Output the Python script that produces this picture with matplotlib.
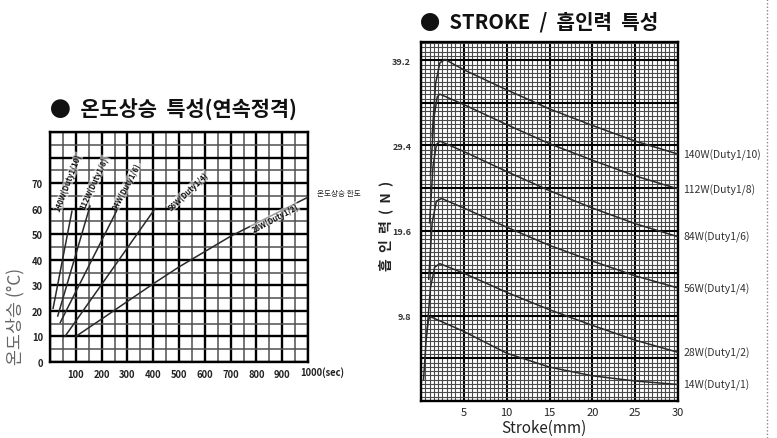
import matplotlib
matplotlib.use('Agg')
import matplotlib.pyplot as plt
from matplotlib.lines import Line2D

plt.rcParams['font.family'] = ['Noto Sans CJK KR', 'DejaVu Sans']

# ---------------- Left chart data: temperature rise ----------------
temp_names = ['140W(Duty1/10)', '112W(Duty1/8)', '84W(Duty1/6)', '56W(Duty1/4)', '28W(Duty1/2)']
temp_t_140 = [12, 85]
temp_v_140 = [21, 59]
temp_t_112 = [30, 155]
temp_v_112 = [18, 61]
temp_t_84 = [40, 265]
temp_v_84 = [15.5, 60.5]
temp_t_56 = [58, 407]
temp_v_56 = [10, 60]
temp_t_28 = [100, 200, 300, 400, 500, 600, 700, 800, 900, 1000]
temp_v_28 = [10, 16.8, 23.7, 30.6, 37.2, 43.2, 49.2, 54.3, 59.4, 64.5]
temp_xticks = [100, 200, 300, 400, 500, 600, 700, 800, 900]
temp_yticks = [0, 10, 20, 30, 40, 50, 60, 70]
temp_limit_label = '온도상승 한도'

# ---------------- Right chart data: stroke / force ----------------
stroke_names = ['140W(Duty1/10)', '112W(Duty1/8)', '84W(Duty1/6)',
                '56W(Duty1/4)', '28W(Duty1/2)', '14W(Duty1/1)']
stroke_140 = [1.3, 1.7, 2.2, 2.8, 5, 10, 15, 20, 25, 30]
force_140 = [30.5, 36.5, 38.9, 39.3, 38.1, 35.8, 33.6, 31.7, 29.9, 28.4]
stroke_112 = [1.1, 1.5, 1.9, 2.2, 5, 10, 15, 20, 25, 30]
force_112 = [26.0, 32.5, 35.0, 35.3, 34.1, 31.8, 29.6, 27.7, 25.9, 24.4]
stroke_84 = [1.0, 1.4, 1.8, 2.2, 5, 10, 15, 20, 25, 30]
force_84 = [20.5, 27.0, 29.5, 29.9, 28.7, 26.4, 24.2, 22.2, 20.4, 18.9]
stroke_56 = [0.9, 1.3, 1.8, 2.4, 5, 10, 15, 20, 25, 30]
force_56 = [14.0, 20.5, 23.0, 23.3, 22.2, 20.0, 17.9, 16.1, 14.4, 13.0]
stroke_28 = [0.7, 1.1, 1.6, 2.2, 5, 10, 15, 20, 25, 30]
force_28 = [8.0, 13.0, 15.4, 15.8, 14.7, 12.5, 10.5, 8.7, 7.0, 5.6]
stroke_14 = [0.3, 0.6, 0.85, 1.1, 5, 10, 15, 20, 25, 30]
force_14 = [2.5, 7.0, 9.3, 9.7, 8.0, 5.5, 3.9, 2.9, 2.3, 1.9]
stroke_xticks = [5, 10, 15, 20, 25, 30]
force_yticks = [9.8, 19.6, 29.4, 39.2]

fig = plt.figure(figsize=(7.77, 4.39), dpi=100)
W, H = 777.0, 439.0

def fx(px):
    return px / W

def fy(py):
    return 1 - py / H

# ================= LEFT =================
axL = fig.add_axes([fx(50), fy(363), (308 - 50) / W, (363 - 133) / H])
axL.set_xlim(0, 1000)
axL.set_ylim(0, 90)
for v in range(0, 1001, 50):
    major = v % 100 == 0
    axL.axvline(v, color='black' if major else '#505050', lw=1.7 if major else 1.1, zorder=1)
for v in range(0, 91, 5):
    major = v % 10 == 0
    axL.axhline(v, color='black' if major else '#505050', lw=1.7 if major else 1.1, zorder=1)

lc = '#2a2a2a'
for t, v in [(temp_t_140, temp_v_140), (temp_t_112, temp_v_112), (temp_t_84, temp_v_84),
             (temp_t_56, temp_v_56), (temp_t_28, temp_v_28)]:
    axL.plot(t, v, color=lc, lw=1.1, zorder=3)

# curve labels (position, rotation)
temp_label_layout = [(71, 70.5, 69), (171, 70.3, 65), (297, 69, 62), (536, 67, 43), (872, 56.5, 28)]
for name, (x, y, r) in zip(temp_names, temp_label_layout):
    axL.text(x, y, name, rotation=r, fontsize=5.5, ha='center', va='center', color='#111',
             fontweight='bold', rotation_mode='anchor', zorder=4,
             bbox=dict(facecolor='white', edgecolor='none', pad=0.3, alpha=0.55))

axL.text(1035, temp_v_28[-1] + 1.5, temp_limit_label, fontsize=5.5, ha='left', va='center',
         color='#222', clip_on=False)

axL.set_xticks(temp_xticks)
axL.set_xticklabels([str(v) for v in temp_xticks], fontsize=6.8, fontweight='bold', color='#222')
axL.set_yticks(temp_yticks)
axL.set_yticklabels([str(v) for v in temp_yticks], fontsize=6.8, fontweight='bold', color='#222')
axL.tick_params(length=0, pad=5)
axL.text(969, -1.5, '1000(sec)', transform=axL.transData, fontsize=6.8, fontweight='bold',
         color='#222', ha='left', va='top', clip_on=False)
for s in axL.spines.values():
    s.set_linewidth(1.7)
    s.set_color('black')

fig.text(fx(50), fy(110), '●  온도상승  특성(연속정격)', fontsize=15, fontweight='bold',
         ha='left', va='center', color='#111')
fig.text(fx(15), fy(316), '온도상승 (°C)', fontsize=12.5, rotation=90, ha='center', va='center',
         color='#666')

# ================= RIGHT =================
axR = fig.add_axes([fx(421), fy(402), (678 - 421) / W, (402 - 43) / H])
axR.set_xlim(0, 30)
axR.set_ylim(0, 41.3)
for i in range(0, 61):
    v = i * 0.5
    major = i % 10 == 0
    axR.axvline(v, color='black' if major else '#4a4a4a', lw=1.5 if major else 0.8, zorder=1)
for i in range(0, 85):
    v = i * 0.49
    if v > 41.3:
        break
    major = i % 10 == 0
    axR.axhline(v, color='black' if major else '#4a4a4a', lw=1.5 if major else 0.8, zorder=1)

curves = [(stroke_140, force_140), (stroke_112, force_112), (stroke_84, force_84),
          (stroke_56, force_56), (stroke_28, force_28), (stroke_14, force_14)]
for name, (s, f) in zip(stroke_names, curves):
    axR.plot(s, f, color='#2a2a2a', lw=1.1, zorder=3)
    axR.annotate(name, xy=(s[-1], f[-1]), xytext=(4, 0), textcoords='offset points',
                 fontsize=7.5, ha='left', va='center', color='#333', annotation_clip=False)

axR.set_xticks(stroke_xticks)
axR.set_xticklabels([str(v) for v in stroke_xticks], fontsize=8, color='#222')
axR.set_yticks(force_yticks)
axR.set_yticklabels([str(v) for v in force_yticks], fontsize=6.5, fontweight='bold', color='#333')
axR.tick_params(axis='y', length=0, pad=7)
axR.tick_params(axis='x', length=0, pad=4)
for s in axR.spines.values():
    s.set_linewidth(1.7)
    s.set_color('black')

fig.text(fx(420), fy(22), '●  STROKE  /  흡인력  특성', fontsize=14.5, fontweight='bold',
         ha='left', va='center', color='#111')
fig.text(fx(386), fy(226), '흡  인  력  (  N  )', fontsize=10, fontweight='bold', rotation=90,
         ha='center', va='center', color='#222')
fig.text(fx(544), fy(428), 'Stroke(mm)', fontsize=11, ha='center', va='center', color='#222')

# dotted page border at right
fig.add_artist(Line2D([fx(767), fx(767)], [0, 1], transform=fig.transFigure,
                      color='#888', lw=1.0, linestyle=(0, (1, 1.5))))

fig.savefig('out.png', dpi=100)
